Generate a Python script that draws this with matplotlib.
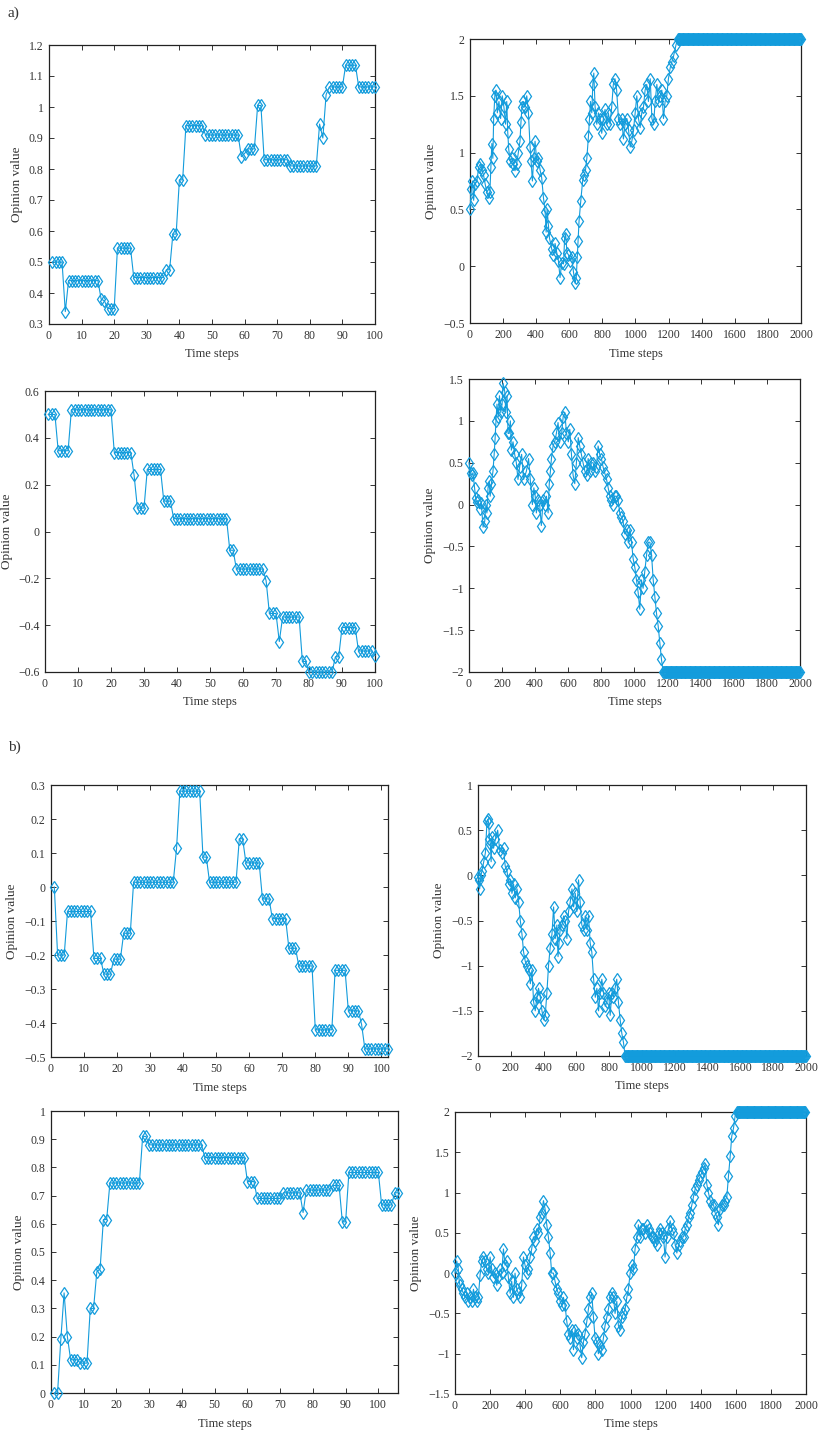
import matplotlib
matplotlib.use('Agg')
import matplotlib.pyplot as plt
import numpy as np
from matplotlib.ticker import FuncFormatter

plt.rcParams['font.family'] = ['Liberation Serif', 'DejaVu Serif']

# ---------------- data: panel a), short runs (steps 1..100)
a_short1 = [0.50, 0.50, 0.50, 0.50, 0.34,
            0.44, 0.44, 0.44, 0.44, 0.44, 0.44, 0.44, 0.44, 0.44, 0.44,
            0.38, 0.375, 0.35, 0.35, 0.35,
            0.545, 0.545, 0.545, 0.545, 0.545,
            0.45, 0.45, 0.45, 0.45, 0.45, 0.45, 0.45, 0.45, 0.45, 0.45,
            0.475, 0.475, 0.59, 0.59, 0.765, 0.765,
            0.94, 0.94, 0.94, 0.94, 0.94, 0.94,
            0.91, 0.91, 0.91, 0.91, 0.91, 0.91, 0.91, 0.91, 0.91, 0.91, 0.91,
            0.84, 0.85, 0.865, 0.865, 0.865, 1.005, 1.005,
            0.83, 0.83, 0.83, 0.83, 0.83, 0.83, 0.83, 0.83,
            0.81, 0.81, 0.81, 0.81, 0.81, 0.81, 0.81, 0.81, 0.81,
            0.945, 0.90, 1.04,
            1.065, 1.065, 1.065, 1.065, 1.065,
            1.135, 1.135, 1.135, 1.135,
            1.065, 1.065, 1.065, 1.065, 1.065, 1.065]

a_short2 = [0.50, 0.50, 0.50, 0.345, 0.345, 0.345, 0.345,
            0.52, 0.52, 0.52, 0.52, 0.52, 0.52, 0.52, 0.52, 0.52, 0.52, 0.52, 0.52, 0.52,
            0.337, 0.337, 0.337, 0.337, 0.337, 0.337,
            0.24, 0.10, 0.10, 0.10,
            0.265, 0.265, 0.265, 0.265, 0.265,
            0.13, 0.13, 0.13,
            0.055, 0.055, 0.055, 0.055, 0.055, 0.055, 0.055, 0.055, 0.055,
            0.055, 0.055, 0.055, 0.055, 0.055, 0.055, 0.055, 0.055,
            -0.08, -0.08,
            -0.16, -0.16, -0.16, -0.16, -0.16, -0.16, -0.16, -0.16, -0.16,
            -0.21, -0.35, -0.35, -0.35, -0.47,
            -0.365, -0.365, -0.365, -0.365, -0.365, -0.365,
            -0.555, -0.555,
            -0.60, -0.60, -0.60, -0.60, -0.60, -0.60, -0.60, -0.60,
            -0.535, -0.535,
            -0.41, -0.41, -0.41, -0.41, -0.41,
            -0.51, -0.51, -0.51, -0.51, -0.51, -0.53]

# ---------------- data: panel a), long runs (read points, then saturated tail)
a_long1_t = [0, 8, 15, 22, 30, 42, 52, 62, 72, 82, 92, 102, 112, 120, 126, 132, 138,
             143, 150, 157, 165, 175, 185, 195, 205, 215, 222, 228, 234, 242, 252,
             262, 272, 282, 292, 302, 308, 314, 322, 332, 343, 353, 363, 369, 377,
             385, 393, 403, 413, 423, 433, 444, 454, 460, 466, 474, 480, 494, 504,
             514, 524, 534, 544, 554, 565, 572, 578, 586, 595, 605, 615, 625, 635,
             642, 648, 653, 659, 669, 681, 690, 698, 706, 716, 722, 728, 736, 742,
             748, 756, 766, 776, 786, 796, 806, 816, 826, 836, 846, 856, 866, 876,
             886, 897, 907, 917, 927, 937, 948, 958, 968, 978, 988, 998, 1008,
             1018, 1028, 1038, 1048, 1058, 1068, 1078, 1089, 1099, 1109, 1119,
             1129, 1139, 1149, 1159, 1169, 1179, 1189, 1199, 1210, 1220, 1230, 1245]
a_long1_v = [0.50, 0.68, 0.75, 0.58, 0.72, 0.75, 0.87, 0.90, 0.85, 0.80, 0.72, 0.65,
             0.60, 0.65, 0.87, 1.08, 0.95, 1.30, 1.50, 1.55, 1.35, 1.45, 1.30, 1.50,
             1.40, 1.25, 1.45, 1.18, 1.03, 0.93, 0.95, 0.90, 0.84, 0.90, 1.00, 1.10,
             1.27, 1.40, 1.45, 1.40, 1.50, 1.35, 1.05, 0.93, 0.75, 0.95, 1.10, 0.93,
             0.95, 0.85, 0.78, 0.60, 0.48, 0.30, 0.50, 0.35, 0.25, 0.15, 0.10, 0.20,
             0.12, 0.05, -0.10, 0.03, 0.02, 0.25, 0.28, 0.12, 0.10, 0.05, 0.08, -0.05,
             -0.15, -0.10, 0.08, 0.22, 0.40, 0.57, 0.76, 0.80, 0.85, 0.95, 1.15, 1.30,
             1.45, 1.35, 1.60, 1.70, 1.40, 1.25, 1.35, 1.30, 1.17, 1.30, 1.38, 1.25,
             1.35, 1.25, 1.40, 1.60, 1.65, 1.55, 1.30, 1.25, 1.30, 1.12, 1.25, 1.30,
             1.20, 1.05, 1.10, 1.20, 1.35, 1.50, 1.30, 1.22, 1.35, 1.40, 1.55, 1.60,
             1.45, 1.65, 1.30, 1.25, 1.45, 1.60, 1.45, 1.50, 1.55, 1.30, 1.45, 1.50,
             1.65, 1.75, 1.80, 1.85, 1.95]
a_long1_sat = (1255, 2.0)

a_long2_t = [0, 10, 18, 24, 34, 40, 46, 54, 64, 74, 85, 95, 102, 108, 115, 122, 128,
             135, 145, 152, 158, 163, 169, 177, 184, 192, 200, 206, 216, 222, 230,
             236, 243, 250, 256, 266, 276, 286, 296, 306, 318, 330, 347, 360, 370,
             383, 392, 400, 407, 417, 427, 437, 448, 458, 468, 478, 485, 492, 498,
             508, 518, 528, 538, 548, 560, 569, 579, 589, 600, 609, 619, 629, 639,
             649, 660, 669, 679, 689, 700, 710, 720, 730, 740, 750, 760, 770, 780,
             790, 800, 810, 820, 831, 841, 851, 861, 871, 881, 891, 901, 911, 921,
             931, 941, 952, 962, 972, 982, 992, 1002, 1012, 1022, 1032, 1042, 1052,
             1062, 1073, 1083, 1093, 1103, 1113, 1123, 1133, 1143, 1153, 1163]
a_long2_v = [0.50, 0.38, 0.35, 0.38, 0.20, 0.08, 0.03, 0.05, -0.05, 0.02, -0.27,
             -0.20, 0.00, -0.10, 0.20, 0.28, 0.10, 0.25, 0.40, 0.60, 0.80, 1.00,
             1.20, 1.05, 1.30, 1.10, 1.20, 1.45, 1.35, 1.10, 1.30, 0.85, 0.85, 1.00,
             0.65, 0.75, 0.60, 0.50, 0.30, 0.45, 0.60, 0.30, 0.40, 0.55, 0.30, 0.00,
             0.20, 0.10, -0.10, 0.05, 0.00, -0.25, 0.05, 0.00, 0.10, -0.10, 0.25,
             0.40, 0.55, 0.70, 0.75, 0.85, 0.98, 0.75, 0.85, 1.05, 1.10, 0.85, 0.75,
             0.90, 0.60, 0.35, 0.25, 0.50, 0.80, 0.70, 0.60, 0.50, 0.40, 0.35, 0.55,
             0.40, 0.50, 0.50, 0.40, 0.45, 0.70, 0.60, 0.55, 0.45, 0.38, 0.30, 0.20,
             0.10, 0.05, 0.00, 0.10, 0.10, 0.05, -0.10, -0.15, -0.20, -0.35, -0.30,
             -0.45, -0.30, -0.45, -0.65, -0.75, -0.90, -1.05, -1.25, -0.90, -1.00,
             -0.80, -0.60, -0.45, -0.45, -0.60, -0.90, -1.10, -1.30, -1.45, -1.65,
             -1.85]
a_long2_sat = (1173, -2.0)

# ---------------- data: panel b), short runs
b_short1 = [0.0, -0.20, -0.20, -0.20,
            -0.072, -0.072, -0.072, -0.072, -0.072, -0.072, -0.072, -0.072,
            -0.21, -0.21, -0.21, -0.256, -0.256, -0.256,
            -0.212, -0.212, -0.212, -0.136, -0.136, -0.136,
            0.014, 0.014, 0.014, 0.014, 0.014, 0.014, 0.014, 0.014, 0.014,
            0.014, 0.014, 0.014, 0.014,
            0.114, 0.282, 0.282, 0.282, 0.282, 0.282, 0.282, 0.282,
            0.088, 0.088,
            0.014, 0.014, 0.014, 0.014, 0.014, 0.014, 0.014, 0.014, 0.014,
            0.142, 0.142, 0.071, 0.071, 0.071, 0.071, 0.071,
            -0.035, -0.035, -0.035,
            -0.093, -0.093, -0.093, -0.093, -0.093,
            -0.18, -0.18, -0.18,
            -0.232, -0.232, -0.232, -0.232, -0.232,
            -0.42, -0.42, -0.42, -0.42, -0.42, -0.42,
            -0.245, -0.245, -0.245, -0.245,
            -0.364, -0.364, -0.364, -0.364, -0.404,
            -0.476, -0.476, -0.476, -0.476, -0.476, -0.476, -0.476, -0.476]

b_short2 = [0.0, 0.0, 0.19, 0.355, 0.20, 0.118, 0.118, 0.118,
            0.106, 0.106, 0.106, 0.30, 0.30, 0.43, 0.44, 0.615, 0.615,
            0.745, 0.745, 0.745, 0.745, 0.745, 0.745, 0.745, 0.745, 0.745, 0.745,
            0.91, 0.91,
            0.88, 0.88, 0.88, 0.88, 0.88, 0.88, 0.88, 0.88, 0.88, 0.88,
            0.88, 0.88, 0.88, 0.88, 0.88, 0.88, 0.88,
            0.835, 0.835, 0.835, 0.835, 0.835, 0.835, 0.835, 0.835, 0.835,
            0.835, 0.835, 0.835, 0.835,
            0.75, 0.75, 0.75,
            0.69, 0.69, 0.69, 0.69, 0.69, 0.69, 0.69, 0.69,
            0.71, 0.71, 0.71, 0.71, 0.71, 0.71, 0.64,
            0.72, 0.72, 0.72, 0.72, 0.72, 0.72, 0.72, 0.72,
            0.736, 0.736, 0.736, 0.607, 0.607,
            0.782, 0.782, 0.782, 0.782, 0.782, 0.782, 0.782, 0.782, 0.782, 0.782,
            0.667, 0.667, 0.667, 0.667, 0.71, 0.71]

# ---------------- data: panel b), long runs
b_long1_t = [0, 4, 10, 18, 24, 35, 45, 55, 60, 65, 70, 75, 80, 85, 95, 106, 120,
             132, 146, 156, 166, 177, 187, 197, 207, 217, 227, 238, 248, 258, 268,
             278, 288, 298, 309, 319, 329, 339, 349, 359, 369, 380, 390, 400, 410,
             420, 430, 440, 451, 461, 471, 481, 488, 494, 501, 512, 522, 532, 542,
             552, 562, 573, 583, 593, 603, 613, 623, 633, 644, 654, 664, 674, 684,
             694, 705, 715, 725, 735, 745, 755, 765, 776, 786, 796, 806, 816, 826,
             836, 846, 856, 867, 877, 887]
b_long1_v = [-0.02, -0.05, -0.15, 0.00, 0.05, 0.15, 0.25, 0.60, 0.62, 0.58, 0.40,
             0.35, 0.15, 0.42, 0.30, 0.40, 0.50, 0.28, 0.25, 0.30, 0.10, 0.05,
             -0.10, -0.05, -0.20, -0.10, -0.25, -0.15, -0.30, -0.50, -0.65, -0.85,
             -0.95, -1.00, -1.05, -1.20, -1.05, -1.40, -1.50, -1.35, -1.25, -1.35,
             -1.50, -1.60, -1.55, -1.30, -1.00, -0.80, -0.65, -0.35, -0.70, -0.55,
             -0.90, -0.75, -0.60, -0.55, -0.45, -0.50, -0.70, -0.40, -0.30, -0.15,
             -0.35, -0.20, -0.40, -0.05, -0.30, -0.55, -0.60, -0.45, -0.60, -0.45,
             -0.75, -0.85, -1.15, -1.35, -1.25, -1.50, -1.30, -1.15, -1.30, -1.45,
             -1.40, -1.30, -1.55, -1.30, -1.35, -1.25, -1.15, -1.40, -1.60, -1.75,
             -1.85]
b_long1_sat = (897, -2.0)

b_long2_t = [0, 10, 19, 24, 28, 38, 48, 57, 67, 76, 86, 95, 105, 114, 124, 133, 143,
             152, 162, 171, 181, 190, 200, 209, 219, 228, 238, 247, 257, 266, 276,
             285, 295, 304, 314, 323, 333, 342, 352, 361, 371, 380, 390, 399, 409,
             418, 428, 437, 447, 456, 466, 475, 485, 494, 504, 513, 523, 532, 542,
             551, 561, 570, 580, 589, 599, 608, 618, 627, 637, 646, 656, 665, 675,
             684, 694, 703, 713, 722, 732, 741, 751, 760, 770, 779, 789, 798, 808,
             817, 827, 836, 846, 855, 865, 874, 884, 893, 903, 912, 922, 931, 940,
             950, 960, 969, 979, 988, 998, 1007, 1017, 1026, 1036, 1045, 1055, 1065,
             1074, 1084, 1093, 1103, 1112, 1122, 1131, 1141, 1150, 1160, 1169, 1179,
             1188, 1197, 1207, 1216, 1226, 1236, 1245, 1255, 1264, 1274, 1283, 1293,
             1302, 1312, 1321, 1331, 1340, 1350, 1359, 1369, 1378, 1388, 1397, 1407,
             1416, 1425, 1435, 1444, 1454, 1463, 1473, 1482, 1492, 1501, 1511, 1520,
             1530, 1539, 1549, 1558, 1568, 1577, 1587, 1596]
b_long2_v = [0.00, 0.15, 0.05, -0.10, -0.15, -0.20, -0.25, -0.30, -0.25, -0.35,
             -0.30, -0.35, -0.20, -0.30, -0.35, -0.30, -0.02, 0.15, 0.20, 0.15, 0.05,
             0.00, 0.20, 0.05, -0.05, 0.00, -0.15, -0.05, 0.05, 0.00, 0.30, 0.10,
             0.15, -0.05, -0.25, -0.10, -0.30, 0.00, -0.20, -0.25, -0.30, -0.15,
             0.20, 0.10, 0.00, 0.05, 0.20, 0.30, 0.45, 0.40, 0.55, 0.50, 0.70, 0.75,
             0.90, 0.80, 0.60, 0.45, 0.25, 0.00, 0.00, -0.10, -0.20, -0.25, -0.35,
             -0.40, -0.30, -0.40, -0.60, -0.75, -0.80, -0.70, -0.95, -0.70, -0.80,
             -0.75, -0.90, -1.05, -0.85, -0.75, -0.60, -0.45, -0.30, -0.25, -0.55,
             -0.80, -0.85, -1.00, -0.90, -0.95, -0.80, -0.65, -0.55, -0.45, -0.30,
             -0.25, -0.30, -0.50, -0.35, -0.65, -0.70, -0.55, -0.50, -0.45, -0.30,
             -0.20, 0.00, 0.10, 0.05, 0.30, 0.45, 0.60, 0.45, 0.55, 0.55, 0.50, 0.60,
             0.55, 0.50, 0.45, 0.45, 0.40, 0.35, 0.50, 0.55, 0.50, 0.45, 0.20, 0.45,
             0.55, 0.65, 0.55, 0.50, 0.35, 0.25, 0.35, 0.40, 0.45, 0.45, 0.55, 0.60,
             0.70, 0.75, 0.85, 0.95, 1.05, 1.10, 1.15, 1.20, 1.25, 1.30, 1.35, 1.10,
             1.00, 0.90, 0.85, 0.85, 0.75, 0.70, 0.60, 0.80, 0.85, 0.85, 0.90, 0.95,
             1.20, 1.45, 1.70, 1.80, 1.95]
b_long2_sat = (1606, 2.0)


def with_tail(t, v, sat):
    # walk readings followed by the flat saturated stretch up to step 2000
    start, level = sat
    tail_t = np.arange(start, 2001, 5)
    return np.concatenate([t, tail_t]), np.concatenate([v, np.full(len(tail_t), level)])


# panel specs: x, data, xlim, xticks, ylim, yticks, box in pixels (left, right, top, bottom)
long_ticks = np.arange(0, 2001, 200)
panels = [
    (np.arange(1, 101), a_short1, (0, 100), np.arange(0, 101, 10), (0.3, 1.2), np.arange(0.3, 1.21, 0.1), (49, 375, 45, 324)),
    (*with_tail(a_long1_t, a_long1_v, a_long1_sat), (0, 2000), long_ticks, (-0.5, 2), np.arange(-0.5, 2.01, 0.5), (470, 801, 39, 323)),
    (np.arange(1, 101), a_short2, (0, 100), np.arange(0, 101, 10), (-0.6, 0.6), np.arange(-0.6, 0.61, 0.2), (45, 375, 391, 672)),
    (*with_tail(a_long2_t, a_long2_v, a_long2_sat), (0, 2000), long_ticks, (-2, 1.5), np.arange(-2, 1.51, 0.5), (469, 800, 379, 672)),
    (np.arange(1, 103), b_short1, (0, 102), np.arange(0, 101, 10), (-0.5, 0.3), np.arange(-0.5, 0.31, 0.1), (51, 388, 785, 1057)),
    (*with_tail(b_long1_t, b_long1_v, b_long1_sat), (0, 2000), long_ticks, (-2, 1), np.arange(-2, 1.01, 0.5), (478, 806, 785, 1056)),
    (np.arange(1, 107), b_short2, (0, 106), np.arange(0, 101, 10), (0, 1), np.arange(0, 1.01, 0.1), (51, 398, 1111, 1393)),
    (*with_tail(b_long2_t, b_long2_v, b_long2_sat), (0, 2000), long_ticks, (-1.5, 2), np.arange(-1.5, 2.01, 0.5), (455, 806, 1112, 1394)),
]

W, H = 820, 1437
fig = plt.figure(figsize=(W / 100, H / 100), dpi=100)
line_color = '#139cdc'
txt_color = '#333333'


def tick_fmt(v, pos):
    r = round(v, 3)
    if r == 0:
        r = 0.0
    return ('%g' % abs(r) if r >= 0 else '\u2212%g' % abs(r))


fmt = FuncFormatter(tick_fmt)

for x, vals, xlim, xt, ylim, yt, (l, r, t, b) in panels:
    ax = fig.add_axes([l / W, 1 - b / H, (r - l) / W, (b - t) / H])
    ax.plot(x, vals, '-', color=line_color, lw=0.8, marker='d', markersize=6.5,
            markerfacecolor='none', markeredgecolor=line_color, markeredgewidth=0.9,
            clip_on=False, zorder=3)
    ax.set_xlim(*xlim)
    ax.set_ylim(*ylim)
    ax.set_xticks(xt)
    ax.set_yticks(yt)
    ax.yaxis.set_major_formatter(fmt)
    ax.xaxis.set_major_formatter(fmt)
    ax.tick_params(direction='in', length=3.5, width=0.7, top=True, right=True,
                   labelsize=8.5, colors=txt_color, pad=4)
    for s in ax.spines.values():
        s.set_linewidth(0.9)
        s.set_color('#222222')
    ax.set_xlabel('Time steps', fontsize=9, color=txt_color, labelpad=5)
    ax.set_ylabel('Opinion value', fontsize=9.5, color=txt_color, labelpad=4)

fig.text(8 / W, 1 - 13 / H, 'a)', fontsize=11, color=txt_color, va='center')
fig.text(8 / W, 1 - 747 / H, 'b)', fontsize=11, color=txt_color, va='center')

fig.savefig('out.png', dpi=100, facecolor='white')
